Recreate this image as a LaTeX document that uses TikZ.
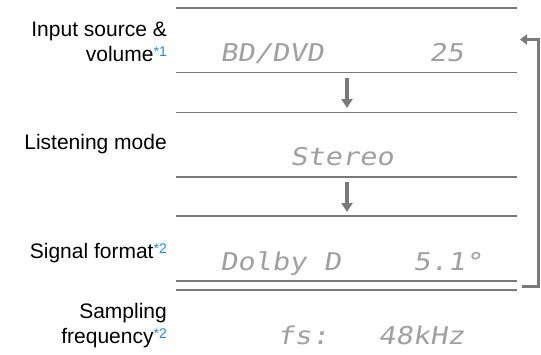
\documentclass[tikz,border=0pt]{standalone}
\usepackage{fontspec}
\setmainfont{Liberation Sans}
\newfontfamily\dotfont[FakeStretch=1.17,FakeSlant=0.17]{DejaVu Sans Mono}
\usetikzlibrary{arrows.meta}
\definecolor{linegray}{HTML}{7A7A7A}
\definecolor{arrowgray}{HTML}{7A7A7A}
\definecolor{noteblue}{HTML}{1E88FF}
\definecolor{dotgray}{HTML}{A0A0A0}
\newcommand\notemark[1]{\raisebox{5pt}{\fontsize{14}{14}\selectfont\color{noteblue}*#1}}
\begin{document}
\begin{tikzpicture}[x=1pt,y=-1pt,
  sepline/.style={draw=linegray,line width=1.5pt},
  flowarrow/.style={draw=arrowgray,line width=3.5pt,-{Triangle[width=11pt,length=9pt]}},
  looparrow/.style={draw=arrowgray,line width=3pt,-{Triangle[width=10pt,length=7pt]}},
  lbl/.style={inner sep=0pt,align=right,anchor=north east,font=\fontsize{21}{25}\selectfont},
  disp/.style={inner sep=0pt,anchor=base west,text=dotgray,font=\fontsize{24.5}{25}\selectfont\dotfont}]
\useasboundingbox (0,0) rectangle (541,354);
% separator lines
\foreach \yy in {8,72.5,112.5,177,216,281,290}
  \draw[sepline] (176,\yy) -- (517,\yy);
% labels
\node[lbl] (lin) at (167,22) {Input source \&\\volume\notemark{1}};
\node[lbl] (llm) at (167,134) {Listening mode};
\node[lbl] (lsf) at (167,243) {Signal format\notemark{2}};
\node[lbl] (lsp) at (167,303) {Sampling\\frequency\notemark{2}};
% display texts
\node[disp] (d1a) at (220,61) {BD/DVD};
\node[disp] (d1b) at (429,61) {25};
\node[disp] (d2)  at (290,165) {Stereo};
\node[disp] (d3a) at (220,270) {Dolby D};
\node[disp] (d3b) at (413,270) {5.1°};
\node[disp] (d4a) at (277,344) {fs:};
\node[disp] (d4b) at (378,344) {48kHz};
% flow arrows
\coordinate (a1s) at (347,78);
\coordinate (a1e) at (347,108);
\coordinate (a2s) at (347,182);
\coordinate (a2e) at (347,212);
\draw[flowarrow] (a1s) -- (a1e);
\draw[flowarrow] (a2s) -- (a2e);
% loop back
\coordinate (ls) at (522,286.5);
\coordinate (lc) at (538,39.5);
\coordinate (le) at (520,39.5);
\draw[looparrow] (ls) -| (lc) -- (le);
\end{tikzpicture}
\end{document}
